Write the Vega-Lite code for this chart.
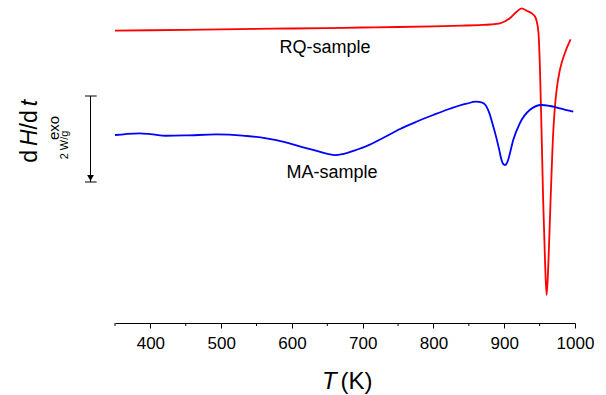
{
  "$schema": "https://vega.github.io/schema/vega-lite/v6.json",
  "width": 460,
  "height": 323,
  "autosize": {"type": "none"},
  "padding": {"left": 115, "top": 0, "right": 31, "bottom": 72},
  "background": "white",
  "config": {"view": {"stroke": null}, "font": "Liberation Sans"},
  "datasets": {
    "curves": [
      {"sample": "RQ", "T": 350, "v": 6.798},
      {"sample": "RQ", "T": 400, "v": 6.809},
      {"sample": "RQ", "T": 450, "v": 6.819},
      {"sample": "RQ", "T": 500, "v": 6.830},
      {"sample": "RQ", "T": 550, "v": 6.840},
      {"sample": "RQ", "T": 600, "v": 6.849},
      {"sample": "RQ", "T": 650, "v": 6.860},
      {"sample": "RQ", "T": 700, "v": 6.872},
      {"sample": "RQ", "T": 750, "v": 6.884},
      {"sample": "RQ", "T": 800, "v": 6.900},
      {"sample": "RQ", "T": 840, "v": 6.916},
      {"sample": "RQ", "T": 865, "v": 6.930},
      {"sample": "RQ", "T": 880, "v": 6.942},
      {"sample": "RQ", "T": 894, "v": 6.970},
      {"sample": "RQ", "T": 908, "v": 7.086},
      {"sample": "RQ", "T": 917.5, "v": 7.240},
      {"sample": "RQ", "T": 924.5, "v": 7.319},
      {"sample": "RQ", "T": 931.6, "v": 7.263},
      {"sample": "RQ", "T": 938.7, "v": 7.202},
      {"sample": "RQ", "T": 943.7, "v": 7.123},
      {"sample": "RQ", "T": 946, "v": 7.007},
      {"sample": "RQ", "T": 948.4, "v": 6.744},
      {"sample": "RQ", "T": 950.4, "v": 5.960},
      {"sample": "RQ", "T": 952.8, "v": 4.419},
      {"sample": "RQ", "T": 955, "v": 2.860},
      {"sample": "RQ", "T": 957.9, "v": 1.309},
      {"sample": "RQ", "T": 959.9, "v": 0.651},
      {"sample": "RQ", "T": 962.2, "v": 1.309},
      {"sample": "RQ", "T": 965.5, "v": 2.860},
      {"sample": "RQ", "T": 969.2, "v": 4.419},
      {"sample": "RQ", "T": 971.5, "v": 5.000},
      {"sample": "RQ", "T": 974, "v": 5.419},
      {"sample": "RQ", "T": 978.6, "v": 5.880},
      {"sample": "RQ", "T": 985.7, "v": 6.279},
      {"sample": "RQ", "T": 993.8, "v": 6.598},
      {"sample": "MA", "T": 350, "v": 4.372},
      {"sample": "MA", "T": 365, "v": 4.395},
      {"sample": "MA", "T": 384.6, "v": 4.412},
      {"sample": "MA", "T": 400, "v": 4.395},
      {"sample": "MA", "T": 422, "v": 4.355},
      {"sample": "MA", "T": 450, "v": 4.362},
      {"sample": "MA", "T": 493, "v": 4.385},
      {"sample": "MA", "T": 530, "v": 4.360},
      {"sample": "MA", "T": 564, "v": 4.295},
      {"sample": "MA", "T": 590, "v": 4.209},
      {"sample": "MA", "T": 611, "v": 4.110},
      {"sample": "MA", "T": 635, "v": 4.005},
      {"sample": "MA", "T": 652, "v": 3.925},
      {"sample": "MA", "T": 662, "v": 3.905},
      {"sample": "MA", "T": 672, "v": 3.930},
      {"sample": "MA", "T": 688, "v": 4.010},
      {"sample": "MA", "T": 705, "v": 4.110},
      {"sample": "MA", "T": 730, "v": 4.314},
      {"sample": "MA", "T": 752, "v": 4.505},
      {"sample": "MA", "T": 775, "v": 4.674},
      {"sample": "MA", "T": 799.5, "v": 4.837},
      {"sample": "MA", "T": 820, "v": 4.965},
      {"sample": "MA", "T": 846.7, "v": 5.100},
      {"sample": "MA", "T": 860, "v": 5.147},
      {"sample": "MA", "T": 868, "v": 5.130},
      {"sample": "MA", "T": 874, "v": 5.060},
      {"sample": "MA", "T": 879, "v": 4.880},
      {"sample": "MA", "T": 884, "v": 4.600},
      {"sample": "MA", "T": 889, "v": 4.300},
      {"sample": "MA", "T": 893, "v": 4.020},
      {"sample": "MA", "T": 896, "v": 3.800},
      {"sample": "MA", "T": 898.5, "v": 3.700},
      {"sample": "MA", "T": 901, "v": 3.674},
      {"sample": "MA", "T": 903.5, "v": 3.710},
      {"sample": "MA", "T": 906, "v": 3.820},
      {"sample": "MA", "T": 912.7, "v": 4.256},
      {"sample": "MA", "T": 922, "v": 4.644},
      {"sample": "MA", "T": 936, "v": 4.953},
      {"sample": "MA", "T": 952.8, "v": 5.070},
      {"sample": "MA", "T": 964.6, "v": 5.047},
      {"sample": "MA", "T": 978.6, "v": 4.993},
      {"sample": "MA", "T": 997.5, "v": 4.914}
    ],
    "minorTicks": [
      {"T": 350}, {"T": 450}, {"T": 550}, {"T": 650}, {"T": 750}, {"T": 850}, {"T": 950}
    ],
    "sampleLabels": [
      {"T": 646.7, "v": 6.272, "text": "RQ-sample"},
      {"T": 656.6, "v": 3.379, "text": "MA-sample"}
    ],
    "xTitleItalic": [{"T": 652.7, "v": -1.535, "text": "T"}],
    "xTitleNormal": [{"T": 691.3, "v": -1.535, "text": "(K)"}],
    "yTitleNormal": [
      {"T": 240.2, "v": 3.877, "text": "d"},
      {"T": 240.2, "v": 4.577, "text": "/"},
      {"T": 240.2, "v": 4.800, "text": "d"}
    ],
    "yTitleItalic": [
      {"T": 240.2, "v": 4.309, "text": "H"},
      {"T": 240.2, "v": 5.114, "text": "t"}
    ],
    "exo": [{"T": 271.0, "v": 4.535, "text": "exo"}],
    "unit": [{"T": 283.6, "v": 4.140, "text": "2 W/g"}],
    "barLine": [{"T": 315.4, "v1": 3.279, "v2": 5.279}],
    "barCaps": [
      {"T1": 307.6, "T2": 324.1, "v": 5.279},
      {"T1": 307.6, "T2": 324.1, "v": 3.279}
    ],
    "arrowHead": [{"T": 315.4, "v": 3.372}]
  },
  "layer": [
    {
      "data": {"name": "curves"},
      "mark": {"type": "line", "strokeWidth": 1.8, "interpolate": "monotone"},
      "encoding": {
        "x": {
          "field": "T", "type": "quantitative",
          "scale": {"domain": [350, 1000], "nice": false, "zero": false},
          "axis": {
            "title": null,
            "values": [400, 500, 600, 700, 800, 900, 1000],
            "format": "d",
            "grid": false,
            "domainColor": "black",
            "domainWidth": 1,
            "tickColor": "black",
            "tickWidth": 1,
            "tickSize": 5,
            "labelFont": "Liberation Sans",
            "labelFontSize": 17,
            "labelColor": "black",
            "labelPadding": 7,
            "labelFlush": false,
            "labelOverlap": false
          }
        },
        "y": {
          "field": "v", "type": "quantitative",
          "scale": {"domain": [0, 7.512], "nice": false, "zero": false},
          "axis": null
        },
        "color": {
          "field": "sample", "type": "nominal",
          "scale": {"domain": ["RQ", "MA"], "range": ["#ff0000", "#0000ff"]},
          "legend": null
        },
        "detail": {"field": "sample"}
      }
    },
    {
      "data": {"name": "minorTicks"},
      "mark": {"type": "rule", "color": "black", "strokeWidth": 1},
      "encoding": {
        "x": {"field": "T", "type": "quantitative"},
        "y": {"datum": 0, "type": "quantitative"},
        "y2": {"datum": -0.07}
      }
    },
    {
      "data": {"name": "sampleLabels"},
      "mark": {"type": "text", "font": "Liberation Sans", "fontSize": 18, "align": "center", "baseline": "alphabetic", "color": "black"},
      "encoding": {
        "x": {"field": "T", "type": "quantitative"},
        "y": {"field": "v", "type": "quantitative"},
        "text": {"field": "text"}
      }
    },
    {
      "data": {"name": "xTitleItalic"},
      "mark": {"type": "text", "font": "Liberation Sans", "fontSize": 24, "fontStyle": "italic", "align": "center", "baseline": "alphabetic", "color": "black"},
      "encoding": {
        "x": {"field": "T", "type": "quantitative"},
        "y": {"field": "v", "type": "quantitative"},
        "text": {"field": "text"}
      }
    },
    {
      "data": {"name": "xTitleNormal"},
      "mark": {"type": "text", "font": "Liberation Sans", "fontSize": 24, "align": "center", "baseline": "alphabetic", "color": "black"},
      "encoding": {
        "x": {"field": "T", "type": "quantitative"},
        "y": {"field": "v", "type": "quantitative"},
        "text": {"field": "text"}
      }
    },
    {
      "data": {"name": "yTitleNormal"},
      "mark": {"type": "text", "font": "Liberation Sans", "fontSize": 23, "angle": -90, "align": "center", "baseline": "alphabetic", "color": "black"},
      "encoding": {
        "x": {"field": "T", "type": "quantitative"},
        "y": {"field": "v", "type": "quantitative"},
        "text": {"field": "text"}
      }
    },
    {
      "data": {"name": "yTitleItalic"},
      "mark": {"type": "text", "font": "Liberation Sans", "fontSize": 23, "fontStyle": "italic", "angle": -90, "align": "center", "baseline": "alphabetic", "color": "black"},
      "encoding": {
        "x": {"field": "T", "type": "quantitative"},
        "y": {"field": "v", "type": "quantitative"},
        "text": {"field": "text"}
      }
    },
    {
      "data": {"name": "exo"},
      "mark": {"type": "text", "font": "Liberation Sans", "fontSize": 15, "angle": -90, "align": "center", "baseline": "alphabetic", "color": "black"},
      "encoding": {
        "x": {"field": "T", "type": "quantitative"},
        "y": {"field": "v", "type": "quantitative"},
        "text": {"field": "text"}
      }
    },
    {
      "data": {"name": "unit"},
      "mark": {"type": "text", "font": "Liberation Sans", "fontSize": 11, "angle": -90, "align": "center", "baseline": "alphabetic", "color": "black"},
      "encoding": {
        "x": {"field": "T", "type": "quantitative"},
        "y": {"field": "v", "type": "quantitative"},
        "text": {"field": "text"}
      }
    },
    {
      "data": {"name": "barLine"},
      "mark": {"type": "rule", "color": "black", "strokeWidth": 1},
      "encoding": {
        "x": {"field": "T", "type": "quantitative"},
        "y": {"field": "v1", "type": "quantitative"},
        "y2": {"field": "v2"}
      }
    },
    {
      "data": {"name": "barCaps"},
      "mark": {"type": "rule", "color": "black", "strokeWidth": 1},
      "encoding": {
        "x": {"field": "T1", "type": "quantitative"},
        "x2": {"field": "T2"},
        "y": {"field": "v", "type": "quantitative"}
      }
    },
    {
      "data": {"name": "arrowHead"},
      "mark": {"type": "point", "shape": "triangle-down", "filled": true, "color": "black", "size": 45, "opacity": 1},
      "encoding": {
        "x": {"field": "T", "type": "quantitative"},
        "y": {"field": "v", "type": "quantitative"}
      }
    }
  ]
}
